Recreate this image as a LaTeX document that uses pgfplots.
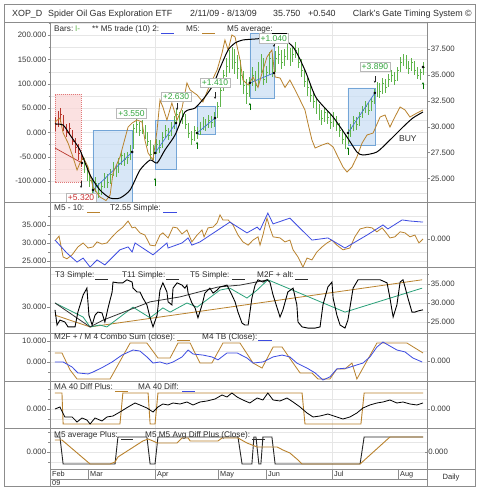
\documentclass[border=0pt]{standalone}
\usepackage{pgfplots}
\pgfplotsset{compat=1.18}
\usepackage{pgfplotstable}
\usepackage{fontspec}
\setmainfont{Liberation Sans}
\usetikzlibrary{arrows.meta}

\definecolor{framec}{RGB}{140,140,140}
\definecolor{gridc}{RGB}{230,230,230}
\definecolor{tickc}{RGB}{55,55,55}
\definecolor{txtc}{RGB}{45,45,45}
\definecolor{orng}{RGB}{185,130,45}
\definecolor{blu}{RGB}{60,75,225}
\definecolor{teal5}{RGB}{40,160,120}
\definecolor{barg}{RGB}{95,180,75}
\definecolor{barr}{RGB}{185,55,45}
\definecolor{boxb}{RGB}{200,222,245}
\definecolor{boxbd}{RGB}{115,165,215}
\definecolor{boxr}{RGB}{250,215,215}
\definecolor{boxrd}{RGB}{225,120,120}
\definecolor{labg}{RGB}{50,165,60}
\definecolor{labr}{RGB}{200,45,45}
\definecolor{trend}{RGB}{70,120,210}

\pgfdeclareplotmark{closetick}{\pgfpathmoveto{\pgfpointorigin}\pgfpathlineto{\pgfpoint{1.5pt}{0pt}}\pgfusepathqstroke}

\newcommand{\tkf}{\fontsize{7.8}{9}\selectfont}
\newcommand{\lgf}{\fontsize{8.2}{9.5}\selectfont}
\newcommand{\hdf}{\fontsize{8.9}{10}\selectfont}
\newcommand{\lbf}{\fontsize{8.5}{10}\selectfont}
\newcommand{\dtf}{\fontsize{7.3}{8.5}\selectfont}

\tikzset{lab/.style={draw=gray!55, fill=white, inner sep=1.8pt, font=\lbf, line width=0.4pt}}
\pgfplotsset{
 base/.style={scale only axis, width=377pt, xmin=-1.724, xmax=128.28, xtick=\empty,
   axis line style={draw=framec, line width=0.5pt},
   tick align=outside, major tick length=2.5pt, minor tick length=1.5pt,
   tick style={draw=framec, line width=0.4pt},
   yticklabel style={font=\tkf, text=tickc, inner sep=1.2pt},
   grid style={draw=gridc, line width=0.4pt},
   /pgf/number format/assume math mode=true,
   clip=true, anchor=south west},
 over/.style={base, hide x axis, ytick pos=right, yticklabel pos=right},
}
\newcommand{\vgrid}{%
 \addplot[gridc, line width=0.4pt, forget plot] coordinates {(34.5,-500) (34.5,500)};
 \addplot[gridc, line width=0.4pt, forget plot] coordinates {(95.5,-500) (95.5,500)};}

\pgfplotstableread[row sep=\\]{
i c h l\\
0 30.2 30.9 29.6\\ 1 30.8 31.5 30.0\\ 2 31.2 31.8 30.5\\ 3 30.0 31.1 29.6\\ 4 29.5 30.3 29.0\\
5 29.8 30.4 29.2\\ 6 28.6 29.7 28.2\\ 7 28.0 28.9 27.5\\ 8 27.4 28.3 26.8\\ 9 26.8 27.6 26.1\\
10 26.0 27.0 25.5\\ 11 25.2 26.2 24.8\\ 12 24.8 25.6 24.2\\ 13 23.9 25.0 23.5\\ 14 24.5 25.1 23.7\\
15 23.6 24.6 23.1\\ 16 24.2 24.8 23.4\\ 17 25.0 25.5 24.1\\ 18 24.6 25.4 24.1\\ 19 25.4 25.9 24.5\\
20 26.0 26.6 25.2\\ 21 25.6 26.3 25.1\\ 22 26.5 27.0 25.5\\ 23 27.2 27.7 26.3\\ 24 26.8 27.5 26.2\\
25 27.0 27.6 26.4\\ 26 27.6 28.2 26.8\\ 27 29.8 30.3 27.8\\ 28 30.2 30.9 29.4\\ 29 29.6 30.5 29.1\\
30 30.0 30.6 29.3\\ 31 29.2 30.2 28.8\\ 32 28.6 29.5 28.1\\ 33 27.3 28.7 26.9\\ 34 27.5 28.2 26.8\\
35 28.3 28.8 27.4\\ 36 28.0 28.7 27.5\\ 37 29.0 29.5 27.9\\ 38 29.6 30.2 28.9\\ 39 29.2 29.9 28.7\\
40 30.0 30.5 29.1\\ 41 30.4 31.0 29.8\\ 42 31.2 31.7 30.3\\ 43 30.6 31.4 30.1\\ 44 31.0 31.6 30.3\\
45 30.2 31.2 29.8\\ 46 29.4 30.4 28.9\\ 47 28.8 29.6 28.2\\ 48 29.6 30.1 28.6\\ 49 29.4 30.0 28.8\\
50 30.0 30.5 29.2\\ 51 30.3 30.9 29.7\\ 52 30.1 30.7 29.6\\ 53 30.6 31.1 29.9\\ 54 30.4 31.0 29.9\\
55 30.8 31.4 30.0\\ 56 32.0 32.4 30.8\\ 57 33.5 34.0 31.9\\ 58 35.0 35.5 33.4\\ 59 35.8 36.6 34.8\\
60 36.4 37.4 35.2\\ 61 36.8 37.7 35.6\\ 62 36.2 37.5 35.1\\ 63 35.6 36.9 34.6\\ 64 35.0 36.4 34.0\\
65 34.0 35.4 33.2\\ 66 33.2 34.6 32.2\\ 67 34.2 34.8 32.9\\ 68 35.0 35.8 33.9\\ 69 34.0 35.4 33.4\\
70 35.6 36.2 33.9\\ 71 36.4 37.0 35.2\\ 72 34.6 36.6 34.0\\ 73 35.2 35.9 34.2\\ 74 36.6 37.2 35.0\\
75 35.2 36.9 34.8\\ 76 36.6 37.3 35.3\\ 77 37.0 37.8 36.1\\ 78 36.2 37.4 35.6\\ 79 36.8 37.5 35.9\\
80 37.4 38.0 36.4\\ 81 36.6 37.6 35.9\\ 82 37.0 37.7 36.2\\ 83 37.4 38.2 36.6\\ 84 36.2 37.6 35.7\\
85 35.4 36.5 34.8\\ 86 34.4 35.6 33.8\\ 87 33.8 34.7 33.0\\ 88 33.0 34.0 32.4\\ 89 32.4 33.4 31.8\\
90 31.8 32.8 31.2\\ 91 31.2 32.2 30.6\\ 92 30.8 31.6 30.2\\ 93 31.4 31.9 30.5\\ 94 30.9 31.6 30.3\\
95 30.4 31.2 29.8\\ 96 30.8 31.4 30.0\\ 97 30.2 31.0 29.6\\ 98 29.6 30.4 29.0\\ 99 28.8 29.8 28.3\\
100 28.4 29.2 27.8\\ 101 29.4 29.8 28.3\\ 102 29.8 30.3 29.0\\ 103 30.6 31.0 29.6\\ 104 30.2 30.9 29.7\\
105 31.0 31.4 30.1\\ 106 31.6 32.0 30.8\\ 107 32.0 32.5 31.3\\ 108 31.6 32.3 31.1\\ 109 32.4 32.8 31.5\\
110 33.2 33.6 32.2\\ 111 33.8 34.3 32.9\\ 112 33.4 34.2 32.8\\ 113 34.2 34.7 33.2\\ 114 33.8 34.6 33.3\\
115 34.6 35.1 33.8\\ 116 35.0 35.5 34.3\\ 117 34.5 35.3 34.0\\ 118 35.4 35.8 34.4\\ 119 36.2 36.7 35.3\\
120 36.6 37.0 35.9\\ 121 36.0 36.9 35.6\\ 122 35.6 36.3 35.1\\ 123 36.2 36.6 35.4\\ 124 35.4 36.3 35.0\\
125 35.0 35.8 34.6\\ 126 35.2 35.6 34.5\\ 127 35.75 36.2 35.0\\
}\bars

\begin{document}
\begin{tikzpicture}
\fill[white] (0,0) rectangle (479pt,490pt);
\path[use as bounding box] (0,0) rectangle (479pt,490pt);

% ================= PANEL 1 =================
\begin{axis}[base, at={(50pt,288pt)}, height=180pt, ymin=-143.0, ymax=227.4,
  ytick={-100,-50,0,50,100,150,200},
  yticklabels={-100.000,-50.000,0.000,50.000,100.000,150.000,200.000},
  minor ytick={-125,-75,-25,25,75,125,175,225}, ymajorgrids, yminorgrids, ytick pos=left]
\vgrid
\addplot[fill=boxr, fill opacity=0.75, draw=boxrd, dash pattern=on 1pt off 1pt, line width=0.5pt]
  coordinates {(0,79.2) (9.0,79.2) (9.0,-101.9) (0,-101.9) (0,79.2)};
\addplot[fill=boxb, fill opacity=0.7, draw=boxbd, line width=0.5pt]
  coordinates {(13.1,5.1) (26.6,5.1) (26.6,-160) (13.1,-160) (13.1,5.1)};
\addplot[fill=boxb, fill opacity=0.7, draw=boxbd, line width=0.5pt]
  coordinates {(34.5,25.7) (41.7,25.7) (41.7,-75.1) (34.5,-75.1) (34.5,25.7)};
\addplot[fill=boxb, fill opacity=0.7, draw=boxbd, line width=0.5pt]
  coordinates {(49.0,54.5) (55.2,54.5) (55.2,-3.1) (49.0,-3.1) (49.0,54.5)};
\addplot[fill=boxb, fill opacity=0.7, draw=boxbd, line width=0.5pt]
  coordinates {(67.2,205) (75.5,205) (75.5,71.0) (67.2,71.0) (67.2,205)};
\addplot[fill=boxb, fill opacity=0.7, draw=boxbd, line width=0.5pt]
  coordinates {(101.0,91.6) (110.3,91.6) (110.3,-25.7) (101.0,-25.7) (101.0,91.6)};
\end{axis}

\begin{axis}[over, at={(50pt,288pt)}, height=180pt, ymin=22.73, ymax=40.11,
  ytick={25,27.5,30,32.5,35,37.5},
  yticklabels={25.000,27.500,30.000,32.500,35.000,37.500}]
\addplot[barr, only marks, mark=closetick, mark options={barr, line width=0.7pt},
  restrict x to domain=-1:9.5,
  error bars/.cd, y dir=both, y explicit, error mark=none, error bar style={barr, line width=0.7pt}]
  table[x=i, y=c, y error plus expr=\thisrow{h}-\thisrow{c}, y error minus expr=\thisrow{c}-\thisrow{l}] {\bars};
\addplot[barg, only marks, mark=closetick, mark options={barg, line width=0.7pt},
  restrict x to domain=9.5:130,
  error bars/.cd, y dir=both, y explicit, error mark=none, error bar style={barg, line width=0.7pt}]
  table[x=i, y=c, y error plus expr=\thisrow{h}-\thisrow{c}, y error minus expr=\thisrow{c}-\thisrow{l}] {\bars};
\addplot[green!45!black, line width=0.5pt, -{Stealth[length=2.4pt,width=2.2pt]}, quiver={u=\thisrow{u},v=\thisrow{v}}]
  table[row sep=\\]{x y u v\\ 34.5 24.28 0 0.77\\ 49.0 27.85 0 0.7\\ 67.2 31.6 0 0.7\\ 101.0 27.27 0 0.77\\ 126.9 33.64 0 0.67\\};
\addplot[black!85, line width=0.5pt, -{Stealth[length=2.4pt,width=2.2pt]}, quiver={u=\thisrow{u},v=\thisrow{v}}]
  table[row sep=\\]{x y u v\\ 9.0 24.76 0 -0.68\\ 42.1 32.29 0 -0.69\\ 55.2 33.35 0 -0.68\\ 75.5 38.37 0 -0.68\\ 110.3 34.89 0 -0.67\\};
\end{axis}

\begin{axis}[base, hide axis, at={(50pt,288pt)}, height=180pt, ymin=-143.0, ymax=227.4]
\addplot[barr, line width=0.7pt] coordinates {(0,-31.9) (9.3,-62.8)};
\addplot[trend, line width=0.7pt] coordinates {(13.1,-118.3) (26.6,-40.1)};
\addplot[trend, line width=0.7pt] coordinates {(34.5,-42.2) (41.7,19.6)};
\addplot[trend, line width=0.7pt] coordinates {(49.0,-1.0) (55.2,29.8)};
\addplot[trend, line width=0.7pt] coordinates {(67.2,101.9) (75.5,122.5)};
\addplot[trend, line width=0.7pt] coordinates {(101.0,-1.0) (110.3,81.3)};
\addplot[orng, line width=0.8pt] coordinates {
(0,21.6)(1.7,29.8)(2.8,-1.0)(4.5,-21.6)(6.2,-50.4)(7.6,-77.2)(8.6,-62.8)(9.7,-50.4)(11.4,-71.0)(13.1,-112.2)
(15.5,-132.7)(17.6,-140)(19.0,-128.6)(20.0,-83.3)(22.4,-50.4)(25.2,11.3)(26.6,19.6)(28.3,25.7)(30.0,21.6)(31.0,-15.4)
(32.1,-42.2)(33.8,-56.6)(35.2,5.1)(36.2,66.9)(37.2,52.5)(38.6,25.7)(40.3,60.7)(42.1,25.7)(43.8,50.4)(45.5,101.9)
(46.6,87.5)(49.0,77.2)(51.0,62.8)(53.4,97.8)(55.9,128.6)(57.6,163.6)(58.6,190.4)(59.7,169.8)(61.0,200.7)(62.1,196.5)
(63.8,149.2)(64.8,108.0)(66.6,97.8)(68.3,114.2)(70.0,92.6)(71.4,122.5)(73.1,155.4)(74.8,169.8)(75.9,114.2)(77.6,112.2)
(79.3,92.6)(81.0,108.0)(82.8,87.5)(84.5,67.0)(86.2,46.3)(87.2,19.6)(88.6,-15.4)(89.7,-31.9)(92.1,-25.7)(94.1,-21.6)
(95.9,-29.8)(97.6,-50.4)(99.3,-71.0)(100.7,-81.3)(102.4,-71.0)(104.1,-50.4)(105.9,-21.6)(107.6,-5.1)(109.7,-1.0)(112.1,31.9)
(113.8,36.0)(115.5,11.3)(117.2,31.9)(119.0,52.5)(120.7,46.3)(122.4,31.9)(124.8,40.1)(126.9,46.3)};
\addplot[black, line width=1pt, smooth, tension=0.4] coordinates {
(0,17.5)(2.8,15.4)(5.2,-5.1)(8.6,-36.0)(12.1,-87.5)(15.5,-118.3)(19.0,-134.8)(22.4,-134.8)(25.9,-118.3)(29.3,-77.2)
(32.8,-56.6)(35.2,-62.8)(37.9,-36.0)(41.4,-5.1)(44.8,42.2)(48.3,50.4)(51.7,73.1)(54.5,97.8)(56.9,132.7)(59.7,169.8)
(62.1,184.2)(64.8,190.4)(69.0,192.4)(73.1,194.5)(76.6,196.5)(79.3,190.4)(82.1,176.0)(84.1,155.4)(86.6,122.5)(90.0,72.0)
(95.9,31.9)(100.7,-9.3)(104.1,-40.1)(106.2,-46.3)(111.0,-40.1)(115.5,-15.4)(120.0,11.3)(123.4,29.8)(126.9,42.2)};
\addplot[only marks, mark=*, mark size=1.1pt, black] coordinates {
(9.3,-62.8)(13.1,-118.3)(26.6,-40.1)(34.5,-42.2)(41.7,19.6)(49.0,-1.0)(55.2,29.8)(67.2,101.9)(75.5,122.5)(101.0,-1.0)(110.3,81.3)(126.9,134.8)};
\node[lab, text=labr] at (axis cs:9.0,-134.8) {+5.320};
\node[lab, text=labg] at (axis cs:26.4,39.5) {+3.550};
\node[lab, text=labg] at (axis cs:41.7,73.7) {+2.630};
\node[lab, text=labg] at (axis cs:55.2,102.5) {+1.410};
\node[lab, text=labg] at (axis cs:75.4,194) {+1.040};
\node[lab, text=labg] at (axis cs:110.3,135.4) {+3.890};
\node[font=\lbf, text=txtc] at (axis cs:121.7,-13.4) {BUY};
\end{axis}

% ================= PANEL 2 =================
\begin{axis}[base, at={(50pt,223pt)}, height=65pt, ymin=23.33, ymax=41.39,
  ytick={25,30,35}, yticklabels={25.000,30.000,35.000}, minor ytick={27.5,32.5,37.5},
  ymajorgrids, yminorgrids, ytick pos=left]
\vgrid
\addplot[orng, line width=0.8pt] coordinates {
(0,30.6)(1.4,31.9)(2.8,26.1)(4.1,25.6)(5.9,26.7)(7.9,28.9)(9.7,30.0)(11.4,28.6)(13.1,28.9)(14.5,30.3)
(16.2,29.7)(17.9,30.0)(19.7,31.7)(21.4,33.1)(23.4,34.4)(25.2,36.1)(26.6,34.2)(27.6,34.4)(29.3,32.8)(31.0,32.2)
(32.8,29.4)(34.5,29.2)(36.2,32.2)(37.2,32.8)(39.0,31.4)(40.7,34.4)(42.1,34.2)(43.8,32.5)(45.5,33.6)(47.2,30.3)
(49.0,32.2)(50.7,33.6)(51.4,31.7)(52.8,34.2)(54.5,34.4)(55.9,35.6)(56.9,37.8)(57.9,36.4)(59.7,36.4)(61.4,35.0)
(63.1,32.2)(64.8,30.3)(66.6,29.4)(68.3,30.8)(70.0,31.7)(70.7,29.4)(71.7,32.2)(73.1,36.9)(74.1,34.2)(75.2,31.7)
(77.6,31.4)(79.3,30.3)(81.0,30.8)(82.1,28.1)(83.8,26.1)(85.5,23.3)(86.9,25.8)(88.6,25.3)(90.3,27.5)(92.1,28.9)
(93.8,30.0)(95.5,30.8)(97.2,29.4)(99.3,28.1)(101.7,28.6)(103.4,31.7)(105.2,33.9)(107.6,34.4)(109.3,34.2)(111.0,33.1)
(112.8,34.2)(114.5,32.5)(115.5,31.4)(117.2,31.7)(119.0,33.1)(120.7,32.8)(122.4,31.7)(124.1,32.2)(125.5,30.0)(126.9,31.1)};
\addplot[blu, line width=0.8pt] coordinates {
(0,30.8)(4.1,27.2)(7.6,24.7)(9.7,25.8)(12.1,23.3)(14.5,25.3)(17.2,23.9)(22.4,28.1)(25.2,28.9)(26.6,27.5)
(27.6,30.0)(33.8,26.7)(38.6,30.0)(39.0,28.6)(43.8,30.0)(45.9,31.4)(47.2,29.4)(50.0,30.3)(60.3,35.8)(66.2,32.8)
(69.7,34.4)(70.7,33.6)(73.4,38.3)(75.2,35.3)(81.0,36.9)(88.6,30.8)(94.1,31.4)(100.0,28.6)(107.6,32.2)(113.1,35.0)
(114.8,33.9)(119.7,36.4)(122.4,36.1)(126.9,35.8)};
\end{axis}
\begin{axis}[over, at={(50pt,223pt)}, height=65pt, ymin=23.33, ymax=41.39, ytick={31.1}, yticklabels={0.000}]
\end{axis}

% ================= PANEL 3 =================
\begin{axis}[base, at={(50pt,157pt)}, height=66pt, ymin=22.11, ymax=39.47,
  ytick={25,30,35}, yticklabels={25.000,30.000,35.000}, minor ytick={27.5,32.5,37.5},
  ymajorgrids, yminorgrids, ytick pos=right, yticklabel pos=right]
\vgrid
\addplot[orng, line width=0.8pt] coordinates {(0,26.8)(12.1,23.7)(126.6,36.1)};
\addplot[teal5, line width=0.8pt] coordinates {
(0,30.0)(9.7,26.3)(12.1,23.7)(15.5,24.2)(17.9,23.7)(26.9,28.9)(32.8,26.1)(37.2,28.7)(39.7,27.6)(45.5,30.0)
(49.0,28.9)(56.9,33.4)(60.3,33.9)(66.2,31.3)(69.7,33.4)(73.4,36.1)(100.0,27.6)(126.6,33.9)};
\addplot[black!80, line width=0.8pt] coordinates {
(0,30.0)(12.1,23.7)(16.6,25.5)(32.8,30.3)(43.1,31.6)(56.2,34.2)(63.8,34.7)(73.4,36.1)};
\addplot[black, line width=0.9pt] coordinates {
(0,28.2)(0.7,24.2)(1.7,25.5)(3.4,25.0)(4.5,23.7)(6.9,23.7)(7.9,27.6)(9.7,32.1)(11.0,33.9)(11.7,26.8)
(12.8,24.2)(13.8,26.8)(14.8,27.6)(16.2,27.4)(17.2,25.0)(18.3,28.7)(19.7,32.9)(20.0,35.5)(21.7,35.3)(23.4,35.3)
(24.8,36.1)(26.6,35.5)(26.9,33.9)(28.3,32.9)(29.3,32.9)(30.3,31.3)(31.7,29.5)(32.8,26.1)(33.8,23.7)(35.2,26.8)
(36.2,33.4)(37.2,35.3)(38.6,32.9)(39.0,30.3)(40.3,29.5)(40.7,33.9)(42.1,35.3)(43.8,34.7)(44.8,33.9)(45.5,34.7)
(45.9,32.6)(47.2,30.0)(48.3,28.7)(49.3,26.1)(50.7,29.5)(51.7,32.6)(53.4,33.9)(54.5,32.6)(55.9,33.4)(56.9,34.2)
(59.3,34.7)(61.0,32.1)(62.1,30.3)(63.1,27.6)(64.5,24.7)(65.5,24.2)(66.6,24.2)(67.9,31.3)(69.0,34.7)(70.0,36.1)
(71.7,35.5)(73.1,36.1)(74.1,35.5)(75.2,32.1)(76.6,28.7)(77.6,26.3)(78.6,28.2)(80.3,32.9)(82.1,33.9)(83.4,29.5)
(83.8,25.0)(85.2,23.7)(87.2,23.4)(89.7,23.4)(91.4,23.7)(92.4,29.5)(94.1,34.2)(95.5,35.5)(95.9,31.3)(97.2,26.8)
(98.3,24.2)(100.0,23.4)(101.0,25.5)(102.8,33.9)(104.5,36.1)(106.9,36.1)(109.3,36.1)(112.1,36.1)(114.5,35.3)(115.5,31.3)
(116.6,26.3)(117.9,29.5)(119.0,35.5)(120.0,36.1)(120.7,34.2)(121.7,31.3)(123.1,27.6)(124.1,27.6)(125.2,27.9)(126.9,28.2)};
\end{axis}
\begin{axis}[base, hide x axis, at={(50pt,157pt)}, height=66pt, ymin=22.11, ymax=39.47,
  ytick={28.95}, yticklabels={30.000}, ytick pos=left]
\end{axis}

% ================= PANEL 4 =================
\begin{axis}[base, at={(50pt,109pt)}, height=48pt, ymin=-9.05, ymax=13.81,
  ytick={0,10}, yticklabels={0.000,10.000}, minor ytick={-5,5}, ymajorgrids, yminorgrids, ytick pos=left]
\vgrid
\addplot[orng, line width=0.8pt] coordinates {
(0,4.3)(2.4,4.3)(5.2,-3.8)(7.6,-8.1)(19.0,-8.1)(25.9,9.0)(31.7,9.0)(35.5,1.9)(39.7,1.9)(42.4,9.0)
(46.6,9.0)(50.0,-0.5)(54.1,-0.5)(57.9,9.0)(63.8,9.0)(68.3,-0.5)(71.4,-2.9)(75.2,7.1)(78.3,7.1)(82.1,-0.5)
(84.5,-5.2)(88.6,-5.2)(90.7,-8.1)(94.8,-8.1)(97.2,-3.3)(100.0,-3.3)(102.4,-0.5)(104.1,-8.1)(111.0,9.0)(121.4,9.0)
(126.9,4.3)};
\addplot[blu, line width=0.8pt] coordinates {
(0,0)(2.8,0)(5.9,-2.4)(7.9,-5.2)(11.4,-5.7)(13.1,-4.8)(16.6,-2.4)(19.7,0)(23.1,3.3)(26.9,5.7)
(29.3,5.2)(31.7,2.4)(33.8,-0.5)(36.2,0)(38.6,-1.0)(40.7,0)(43.8,2.4)(45.9,5.7)(47.6,3.8)(51.0,3.3)
(54.1,2.4)(56.2,1.0)(59.3,4.3)(62.8,4.3)(66.2,1.9)(68.3,-0.5)(71.7,0)(75.2,2.4)(78.3,3.3)(81.0,2.4)
(83.4,-0.5)(86.9,-2.9)(89.7,-5.2)(92.4,-8.6)(94.8,-7.1)(97.2,-3.3)(100.7,-2.9)(104.1,-1.4)(106.2,-0.5)(108.6,2.4)
(111.0,7.1)(113.1,9.5)(115.5,7.6)(117.9,5.7)(120.7,4.8)(123.4,1.9)(126.6,0)};
\end{axis}
\begin{axis}[over, at={(50pt,109pt)}, height=48pt, ymin=-9.05, ymax=13.81, ytick={0.48}, yticklabels={0.000}]
\end{axis}

% ================= PANEL 5 =================
\begin{axis}[base, at={(50pt,62pt)}, height=47pt, ymin=-19, ymax=28,
  ytick={0}, yticklabels={0.000}, minor ytick={-10,10,20}, ymajorgrids, yminorgrids, ytick pos=left]
\vgrid
\addplot[orng, line width=0.9pt] coordinates {
(0,16)(2.4,16)(2.8,-15)(22.4,-15)(23.4,16)(32.1,16)(32.8,-15)(34.5,-15)(35.5,16)(85.2,16)
(86.2,-15)(105.5,-15)(106.6,16)(126.9,16)};
\addplot[black, line width=0.8pt] coordinates {
(0,0)(1.7,2)(3.4,-8)(5.9,-8)(7.6,-13)(9.3,-9)(11.0,-11)(12.1,-15)(13.8,-9)(16.2,-12)
(17.9,-8)(20.0,-7)(22.4,-3)(25.2,2)(27.6,6)(29.3,4)(31.7,1)(33.8,-3)(35.5,2)(37.2,5)
(39.0,4)(40.7,6)(43.1,5)(45.5,7)(47.6,4)(50.0,7)(52.4,8)(55.2,10)(57.6,14)(59.3,12)
(61.0,16)(62.8,12)(64.8,9)(67.2,6)(69.7,11)(71.7,9)(73.4,16)(75.2,9)(77.6,8)(80.0,11)
(82.1,7)(84.5,2)(86.9,-4)(89.0,-8)(91.4,-7)(94.1,-5)(97.2,-8)(99.3,-10)(101.7,-8)(104.1,-4)
(106.2,1)(108.6,4)(111.0,6)(113.1,7)(115.5,9)(117.9,6)(120.0,7)(122.4,5)(124.8,4)(126.9,6)};
\end{axis}
\begin{axis}[over, at={(50pt,62pt)}, height=47pt, ymin=-19, ymax=28, ytick={0}, yticklabels={0.000}]
\end{axis}

% ================= PANEL 6 =================
\begin{axis}[base, at={(50pt,21pt)}, height=41pt, ymin=-17, ymax=24,
  ytick={0}, yticklabels={0.000}, minor ytick={-10,10,20}, ymajorgrids, yminorgrids, ytick pos=left]
\vgrid
\addplot[black!85, line width=0.9pt] coordinates {
(0,15)(1.7,15)(2.8,-12)(20.7,-12)(21.7,15)(31.7,15)(32.8,-12)(34.5,-12)(35.5,15)(63.1,15)
(64.5,-12)(67.9,-12)(68.6,15)(69.3,15)(70.3,-12)(71.0,-12)(71.7,15)(74.8,15)(75.9,-12)(105.2,-12)
(106.6,15)(126.9,15)};
\addplot[orng, line width=0.9pt] coordinates {
(0,12)(2.4,12)(12.1,-12)(19.0,-12)(20.7,-10)(21.7,-5)(30.3,11)(32.1,13)(33.8,11)(35.2,9)
(42.1,9)(43.8,14)(45.9,14)(46.6,11)(56.2,11)(57.6,14)(63.1,14)(66.2,9)(69.7,5)(76.6,5)
(78.6,2)(81.0,-1)(83.8,-8)(85.2,-12)(105.2,-12)(115.5,15)(126.9,15)};
\end{axis}
\begin{axis}[base, at={(50pt,21pt)}, height=41pt, ymin=-17, ymax=24,
  ytick={0}, yticklabels={0.000}, ytick pos=right, yticklabel pos=right,
  minor xtick={1.5,6.5,...,126.5}, xtick pos=left, tick align=inside]
\end{axis}

% ================= FRAME =================
\begin{scope}[draw=framec, line width=0.6pt]
\draw (4pt,4pt) rectangle (475pt,486pt);
\draw (4pt,468pt) -- (475pt,468pt);
\foreach \yy in {288,223,157,109,62} {\draw (4pt,\yy pt) -- (475pt,\yy pt);}
\draw (50pt,468pt) -- (50pt,4pt);
\draw (427pt,468pt) -- (427pt,4pt);
\draw (50pt,21pt) -- (475pt,21pt);
\draw (50pt,11pt) -- (427pt,11pt);
\foreach \xx in {88,155,218,266,332,398} {\draw (\xx pt,21pt) -- (\xx pt,11pt);}
\end{scope}

% header
\begin{scope}[every node/.style={anchor=base west, inner sep=0pt, font=\hdf, text=txtc}]
\node at (12pt,473.5pt) {XOP\_D};
\node at (48pt,473.5pt) {Spider Oil Gas Exploration ETF};
\node at (190pt,473.5pt) {2/11/09 - 8/13/09};
\node at (273pt,473.5pt) {35.750};
\node at (308pt,473.5pt) {+0.540};
\node[anchor=base east] at (472pt,473.5pt) {Clark's Gate Timing System ©};
\end{scope}

% legends
\begin{scope}[every node/.style={anchor=base west, inner sep=0pt, font=\lgf, text=txtc}]
\node at (54pt,458pt) {Bars:};
\node[text=barg] at (75pt,458pt) {I-};
\node at (92pt,458pt) {** M5 trade (10) 2:};
\node at (186pt,458pt) {M5:};
\node at (227pt,458pt) {M5 average:};
\node at (54pt,279pt) {M5 - 10:};
\node at (110pt,279pt) {T2.55 Simple:};
\node at (55pt,212pt) {T3 Simple:};
\node at (122pt,212pt) {T11 Simple:};
\node at (190pt,212pt) {T5 Simple:};
\node at (257pt,212pt) {M2F + alt:};
\node at (54pt,150.5pt) {M2F + / M 4 Combo Sum (close):};
\node at (202pt,150.5pt) {M4 TB (Close):};
\node at (54pt,100pt) {MA 40 Diff Plus:};
\node at (138pt,100pt) {MA 40 Diff:};
\node at (54pt,52pt) {M5 average Plus:};
\node at (145pt,52pt) {M5 M5 Avg Diff Plus (Close):};
\end{scope}
\begin{scope}[line width=0.6pt]
\draw[blu] (161pt,457pt) -- (174pt,457pt);
\draw[orng] (202pt,457pt) -- (215pt,457pt);
\draw[black] (272pt,457pt) -- (287pt,457pt);
\draw[orng] (87pt,278pt) -- (100pt,278pt);
\draw[blu] (163pt,278pt) -- (177pt,278pt);
\draw[txtc] (95pt,211pt) -- (108pt,211pt);
\draw[txtc] (166pt,211pt) -- (179pt,211pt);
\draw[txtc] (232pt,211pt) -- (245pt,211pt);
\draw[txtc] (295pt,211pt) -- (308pt,211pt);
\draw[orng] (177pt,149.5pt) -- (190pt,149.5pt);
\draw[blu] (258pt,149.5pt) -- (272pt,149.5pt);
\draw[orng] (115pt,99pt) -- (128pt,99pt);
\draw[blu] (182pt,99pt) -- (195pt,99pt);
\draw[txtc] (121pt,51pt) -- (133pt,51pt);
\draw[txtc] (252pt,51pt) -- (265pt,51pt);
\end{scope}

% date row
\begin{scope}[every node/.style={anchor=base west, inner sep=0pt, font=\dtf, text=txtc}]
\node at (52pt,13pt) {Feb};
\node at (90pt,13pt) {Mar};
\node at (157pt,13pt) {Apr};
\node at (220pt,13pt) {May};
\node at (268pt,13pt) {Jun};
\node at (334pt,13pt) {Jul};
\node at (400pt,13pt) {Aug};
\node at (52pt,5pt) {09};
\end{scope}
\node[font=\fontsize{7.6}{9}\selectfont, text=txtc] at (451pt,12.5pt) {Daily};
\end{tikzpicture}
\end{document}
